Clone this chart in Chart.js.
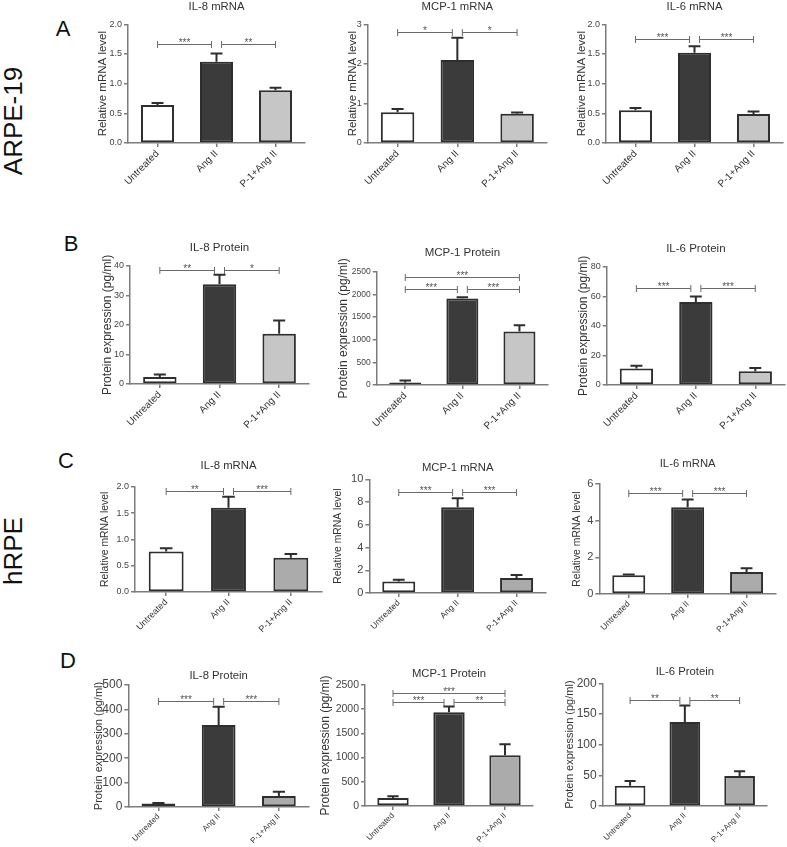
<!DOCTYPE html>
<html><head><meta charset="utf-8">
<script src="https://cdn.jsdelivr.net/npm/chart.js@4.4.0/dist/chart.umd.min.js"></script>
<style>
html,body{margin:0;padding:0;background:#fff;}
body{width:787px;height:847px;position:relative;overflow:hidden;font-family:"Liberation Sans",Arial,sans-serif;}
canvas{position:absolute;}
.c{position:absolute;width:60px;height:40px;margin-left:-30px;margin-top:-20px;display:flex;align-items:center;justify-content:center;color:#111;line-height:1;}
.r{position:absolute;width:200px;height:40px;margin-left:-100px;margin-top:-20px;display:flex;align-items:center;justify-content:center;color:#111;line-height:1;transform:rotate(-90deg);}
</style></head><body>
<div class="c" style="left:63px;top:29px;font-size:22px">A</div>
<div class="c" style="left:71px;top:244px;font-size:22px">B</div>
<div class="c" style="left:66px;top:461px;font-size:22px">C</div>
<div class="c" style="left:68px;top:661px;font-size:22px">D</div>
<div class="r" style="left:13px;top:121px;font-size:26px">ARPE-19</div>
<div class="r" style="left:13px;top:551px;font-size:26px">hRPE</div>
<script>
// ---------- data ----------
const categories = ['Untreated', 'Ang II', 'P-1+Ang II'];
const titlesRowA = ['IL-8 mRNA', 'MCP-1 mRNA', 'IL-6 mRNA'];
const titlesRowB = ['IL-8 Protein', 'MCP-1 Protein', 'IL-6 Protein'];
const yTitleMRNA = 'Relative mRNA level';
const yTitleProtein = 'Protein expression (pg/ml)';

// ARPE-19 mRNA
const a1Mean = [0.64, 1.37, 0.89];  const a1Sem = [0.035, 0.14, 0.04];
const a2Mean = [0.78, 2.10, 0.74];  const a2Sem = [0.08, 0.56, 0.03];
const a3Mean = [0.55, 1.52, 0.49];  const a3Sem = [0.04, 0.11, 0.04];
// ARPE-19 protein
const b1Mean = [2.4, 33.7, 17.0];   const b1Sem = [0.8, 3.2, 4.5];
const b2Mean = [57, 1906, 1180];    const b2Sem = [44, 30, 140];
const b3Mean = [11.1, 56.1, 9.3];   const b3Sem = [2.0, 3.8, 2.2];
// hRPE mRNA
const c1Mean = [0.77, 1.60, 0.65];  const c1Sem = [0.06, 0.21, 0.07];
const c2Mean = [1.02, 7.54, 1.32];  const c2Sem = [0.15, 0.80, 0.26];
const c3Mean = [1.02, 4.73, 1.20];  const c3Sem = [0.05, 0.43, 0.20];
// hRPE protein
const d1Mean = [14, 336, 45];       const d1Sem = [2, 75, 17];
const d2Mean = [165, 1937, 1051];   const d2Sem = [34, 117, 226];
const d3Mean = [33, 137, 49];       const d3Sem = [7.6, 27, 7.6];

// significance brackets: [from, to, level, label]
const a1Sig = [[0,1,1.66,'***'],[1,2,1.66,'**']];
const a2Sig = [[0,1,2.81,'*'],[1,2,2.81,'*']];
const a3Sig = [[0,1,1.75,'***'],[1,2,1.75,'***']];
const b1Sig = [[0,1,38.5,'**'],[1,2,38.5,'*']];
const b2Sig = [[0,2,2390,'***'],[0,1,2119,'***'],[1,2,2119,'***']];
const b3Sig = [[0,1,65.8,'***'],[1,2,65.8,'***']];
const c1Sig = [[0,1,1.92,'**'],[1,2,1.92,'***']];
const c2Sig = [[0,1,8.92,'***'],[1,2,8.92,'***']];
const c3Sig = [[0,1,5.49,'***'],[1,2,5.49,'***']];
const d1Sig = [[0,1,434,'***'],[1,2,434,'***']];
const d2Sig = [[0,2,2328,'***'],[0,1,2157,'***'],[1,2,2157,'**']];
const d3Sig = [[0,1,172.8,'**'],[1,2,172.8,'**']];

// y-axis ranges [max, step, decimals]
const a1Axis = [2, 0.5, 1], a2Axis = [3, 1, 0], a3Axis = [2, 0.5, 1];
const b1Axis = [40, 10, 0], b2Axis = [2500, 500, 0], b3Axis = [80, 20, 0];
const c1Axis = [2, 0.5, 1], c2Axis = [10, 2, 0], c3Axis = [6, 2, 0];
const d1Axis = [500, 100, 0], d2Axis = [2500, 500, 0], d3Axis = [200, 50, 0];

// ---------- layout / style ----------
const FONT = '"Liberation Sans", Arial, sans-serif';
const panels = [
 {title:titlesRowA[0], yTitle:yTitleMRNA, mean:a1Mean, sem:a1Sem, sig:a1Sig, axis:a1Axis, area:[128,24.3,305,143.3], tcy:6.7, ycx:103.3, f:{t:11.3,y:11.5,k:9,x:10}, light:'#c6c6c6'},
 {title:titlesRowA[1], yTitle:yTitleMRNA, mean:a2Mean, sem:a2Sem, sig:a2Sig, axis:a2Axis, area:[367.7,24.3,547,143.3], tcy:6.3, ycx:353.3, f:{t:11.3,y:11.5,k:9,x:10}, light:'#c6c6c6'},
 {title:titlesRowA[2], yTitle:yTitleMRNA, mean:a3Mean, sem:a3Sem, sig:a3Sig, axis:a3Axis, area:[606,24.3,783,143.3], tcy:6.3, ycx:581.7, f:{t:11.3,y:11.5,k:9,x:10}, light:'#c6c6c6'},
 {title:titlesRowB[0], yTitle:yTitleProtein, mean:b1Mean, sem:b1Sem, sig:b1Sig, axis:b1Axis, area:[130,265.7,308.5,384.3], tcy:248, ycx:106.7, f:{t:11.5,y:12,k:9,x:10}, light:'#c6c6c6'},
 {title:titlesRowB[1], yTitle:yTitleProtein, mean:b2Mean, sem:b2Sem, sig:b2Sig, axis:b2Axis, area:[376.7,271.7,547.7,385.3], tcy:253.3, ycx:343.3, f:{t:11.5,y:12,k:8.5,x:10}, light:'#c6c6c6'},
 {title:titlesRowB[2], yTitle:yTitleProtein, mean:b3Mean, sem:b3Sem, sig:b3Sig, axis:b3Axis, area:[606.7,266.7,785,384.7], tcy:248.7, ycx:583.3, f:{t:11.5,y:12,k:9,x:10}, light:'#c6c6c6'},
 {title:titlesRowA[0], yTitle:yTitleMRNA, mean:c1Mean, sem:c1Sem, sig:c1Sig, axis:c1Axis, area:[135,486.7,322,592], tcy:465.8, ycx:105.7, f:{t:11.3,y:10.4,k:9,x:9}, light:'#ababab'},
 {title:titlesRowA[1], yTitle:yTitleMRNA, mean:c2Mean, sem:c2Sem, sig:c2Sig, axis:c2Axis, area:[369.3,479.3,546,593.3], tcy:467.8, ycx:338.3, f:{t:11.3,y:10.4,k:11,x:8.5}, light:'#ababab'},
 {title:titlesRowA[2], yTitle:yTitleMRNA, mean:c3Mean, sem:c3Sem, sig:c3Sig, axis:c3Axis, area:[599.3,484,775.5,594], tcy:463.7, ycx:577.3, f:{t:11.3,y:10.4,k:11,x:8.5}, light:'#ababab'},
 {title:titlesRowB[0], yTitle:yTitleProtein, mean:d1Mean, sem:d1Sem, sig:d1Sig, axis:d1Axis, area:[128.3,685,309,806.7], tcy:676, ycx:98.3, f:{t:11.3,y:11,k:12,x:8}, light:'#ababab'},
 {title:titlesRowB[1], yTitle:yTitleProtein, mean:d2Mean, sem:d2Sem, sig:d2Sig, axis:d2Axis, area:[365,685,533,806.3], tcy:673.8, ycx:325, f:{t:11.3,y:12,k:10.5,x:8}, light:'#ababab'},
 {title:titlesRowB[2], yTitle:yTitleProtein, mean:d3Mean, sem:d3Sem, sig:d3Sig, axis:d3Axis, area:[602.7,683.3,767,806], tcy:672, ycx:570, f:{t:11.3,y:11,k:12,x:8}, light:'#ababab'}
];

const AXIS_COL = '#7c7c7c';
function makePanel(p) {
  const [L, T, R, B] = p.area;
  const XH = 70, PR = 6;
  const left = Math.round(p.ycx - 0.6 * p.f.y);
  const top = Math.round(p.tcy - 0.6 * p.f.t - 2);
  const YW = L - left;
  const pb = T - (top + 2 + 1.2 * p.f.t);
  const W = Math.round(R + PR - left);
  const H = Math.round(B - top) + XH;
  const XHa = H - Math.round(B - top);
  const cv = document.createElement('canvas');
  cv.width = W; cv.height = H;
  cv.style.left = left + 'px'; cv.style.top = top + 'px';
  document.body.appendChild(cv);

  const errPlugin = {
    id: 'errbars',
    afterDatasetsDraw(chart) {
      const ctx = chart.ctx, ys = chart.scales.y, meta = chart.getDatasetMeta(0);
      ctx.save();
      ctx.strokeStyle = '#2e2e2e'; ctx.lineWidth = 2; ctx.lineCap = 'butt';
      p.mean.forEach((m, i) => {
        const bar = meta.data[i];
        const x = bar.x, y0 = ys.getPixelForValue(m), y1 = ys.getPixelForValue(m + p.sem[i]);
        const cw = bar.width * 0.18;
        ctx.beginPath();
        ctx.moveTo(x, y0); ctx.lineTo(x, y1);
        ctx.moveTo(x - cw, y1); ctx.lineTo(x + cw, y1);
        ctx.stroke();
      });
      ctx.restore();
    }
  };
  const sigPlugin = {
    id: 'sig',
    afterDraw(chart) {
      const ctx = chart.ctx, ys = chart.scales.y, xs = chart.scales.x;
      ctx.save();
      ctx.strokeStyle = '#6a6a6a'; ctx.lineWidth = 1;
      ctx.fillStyle = '#555';
      ctx.font = '10px ' + FONT;
      ctx.textAlign = 'center'; ctx.textBaseline = 'alphabetic';
      p.sig.forEach(([a, b, lvl, lab]) => {
        const x1 = xs.getPixelForValue(a) + (a === 1 ? 5 : 0);
        const x2 = xs.getPixelForValue(b) - (b === 1 ? 5 : 0);
        const y = Math.round(ys.getPixelForValue(lvl)) + 0.5;
        ctx.beginPath();
        ctx.moveTo(x1, y); ctx.lineTo(x2, y);
        ctx.moveTo(x1, y - 3.5); ctx.lineTo(x1, y + 3.5);
        ctx.moveTo(x2, y - 3.5); ctx.lineTo(x2, y + 3.5);
        ctx.stroke();
        ctx.fillText(lab, (x1 + x2) / 2, y + 1);
      });
      ctx.restore();
    }
  };

  new Chart(cv, {
    type: 'bar',
    data: {
      labels: categories,
      datasets: [{
        data: p.mean,
        backgroundColor: ['#ffffff', '#3b3b3b', p.light],
        borderColor: '#2e2e2e', borderWidth: 2, borderSkipped: false,
        barPercentage: 0.56, categoryPercentage: 1
      }]
    },
    options: {
      responsive: false, animation: false, devicePixelRatio: 1,
      layout: { padding: { left: 0, top: 0, right: PR, bottom: 0 } },
      plugins: {
        legend: { display: false }, tooltip: { enabled: false },
        title: { display: true, text: p.title, fullSize: false, color: '#333',
          font: { family: FONT, size: p.f.t, weight: 'normal', lineHeight: 1.2 },
          padding: { top: 2, bottom: pb } }
      },
      scales: {
        x: {
          type: 'category', offset: true,
          grid: { display: true, drawOnChartArea: false, drawTicks: true, tickLength: 4, color: AXIS_COL, lineWidth: 1.5, offset: false },
          border: { display: true, color: AXIS_COL, width: 1.5 },
          ticks: { minRotation: 45, maxRotation: 45, autoSkip: false, color: '#333', padding: 1,
            font: { family: FONT, size: p.f.x } },
          afterFit: (s) => { s.height = XHa; }
        },
        y: {
          min: 0, max: p.axis[0],
          grid: { display: true, drawOnChartArea: false, drawTicks: true, tickLength: 4, color: AXIS_COL, lineWidth: 1.5 },
          border: { display: true, color: AXIS_COL, width: 1.5 },
          ticks: { stepSize: p.axis[1], color: '#444', padding: 2,
            font: { family: FONT, size: p.f.k },
            callback: (v) => Number(v).toFixed(p.axis[2]) },
          title: { display: true, text: p.yTitle, color: '#333', padding: 0,
            font: { family: FONT, size: p.f.y, lineHeight: 1.2 } },
          afterFit: (s) => { s.width = YW; }
        }
      }
    },
    plugins: [errPlugin, sigPlugin]
  });
}
panels.forEach(makePanel);
</script>
</body></html>
